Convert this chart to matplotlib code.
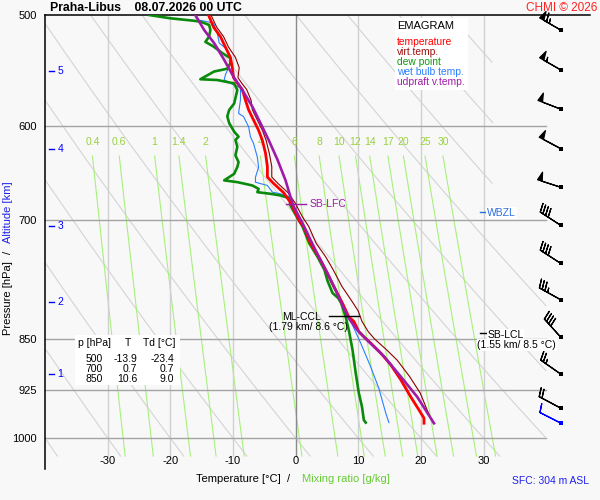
import numpy as np
import matplotlib
matplotlib.use("Agg")
import matplotlib.pyplot as plt
from matplotlib.patches import Rectangle

plt.rcParams['font.family'] = ['Liberation Sans', 'DejaVu Sans']

# ---------------- data ----------------
# temperature (red)
temp_p = [500, 510, 518, 527, 536, 545, 554, 559, 565, 575, 584, 594, 604, 614, 627, 641, 652,
          659, 669, 680, 696, 702, 707, 727, 743, 759, 780, 802, 820, 826, 840, 847, 856, 870,
          887, 909, 935, 955, 968, 976]
temp_t = [-13.9, -13.1, -12.0, -11.2, -10.4, -10.1, -9.9, -9.3, -8.5, -8.0, -7.5, -6.7, -5.9,
          -5.3, -4.8, -4.5, -4.5, -3.5, -1.9, -0.8, 0.3, 0.7, 1.3, 2.4, 3.7, 4.8, 6.1, 7.5, 8.5,
          9.3, 10.1, 10.9, 12.0, 13.6, 15.2, 16.8, 18.4, 19.7, 20.5, 20.5]

# virtual temperature (dark red)
tv_p = [500, 510, 518, 527, 536, 545, 554, 559, 565, 575, 584, 594, 604, 614, 627, 641, 652,
        659, 669, 680, 696, 707, 727, 743, 759, 780, 798, 812, 826, 840, 850, 866, 880, 904,
        929, 955, 971, 976]
tv_t = [-13.5, -12.6, -11.5, -10.7, -9.6, -9.0, -9.2, -8.6, -7.8, -7.1, -6.9, -6.1, -5.3, -4.7,
        -4.2, -3.8, -3.8, -2.8, -1.2, -0.1, 1.1, 2.1, 3.3, 4.8, 6.0, 7.4, 8.9, 10.0, 10.6, 11.6,
        12.6, 14.6, 16.2, 18.2, 19.9, 21.0, 21.7, 22.0]

# dew point (green)
td_p = [500, 502.7, 504.7, 505.5, 508.2, 512.4, 518.0, 522.5, 526.5, 532.2, 536.6, 541.0, 546.0,
        548.5, 555.5, 556.2, 559.3, 565.4, 578.0, 584.2, 590.3, 596.9, 605.3, 610.3, 613.6,
        620.5, 629.3, 636.3, 641.4, 648.6, 655.6, 657.5, 661.1, 664.8, 668.4, 670.2, 672.0,
        675.5, 682, 696, 702, 707, 727, 743, 759, 773, 788.5, 795, 802, 820, 838, 866, 899,
        929, 950, 971, 975]
td_t = [-23.4, -20.0, -16.3, -15.2, -13.8, -13.6, -13.8, -14.4, -13.1, -11.7, -10.4, -10.4,
        -10.9, -13.0, -15.2, -12.5, -9.8, -9.3, -9.8, -10.6, -10.9, -10.6, -9.8, -9.1, -9.6,
        -9.3, -9.6, -9.1, -9.3, -9.8, -11.4, -9.3, -6.9, -5.9, -6.1, -4.0, -2.4, -0.8, -0.9,
        0.2, 0.7, 1.1, 2.2, 3.5, 4.6, 5.1, 5.9, 6.8, 7.3, 8.0, 8.5, 9.1, 9.6, 10.1, 10.6, 10.9,
        11.2]

# wet bulb temperature (blue)
tw_p = [500, 504.1, 506.6, 515.0, 523.4, 529.3, 536.3, 544.0, 551.4, 556.0, 560.6, 563.4, 574.6,
        587.5, 590.6, 600.5, 610.5, 617.3, 631.3, 641.6, 652.2, 657.6, 661.1, 668.4, 670.2,
        673.9, 682, 696, 707, 727, 743, 759, 780, 802, 820, 856, 890, 922, 960, 975]
tw_t = [-16.0, -15.5, -13.1, -12.5, -12.2, -10.9, -10.4, -10.6, -11.2, -11.4, -9.9, -8.8, -8.8,
        -9.1, -8.3, -7.5, -7.2, -6.7, -6.1, -5.9, -6.4, -6.4, -4.5, -3.7, -2.4, -0.8, -0.8,
        0.3, 1.2, 2.3, 3.6, 4.7, 6.0, 7.4, 8.5, 10.4, 12.0, 13.3, 14.4, 14.9]

# updraft virtual temperature (purple)
par_p = [500, 512.4, 523.6, 538.1, 553.3, 565.4, 581.0, 596.9, 613.6, 633.6, 655.6, 673.9,
         684.3, 703.3, 723.0, 743.0, 763.5, 784.9, 804.6, 821.9, 837.8, 851.6, 874.6, 904.3,
         934.5, 976.1]
par_t = [-16.0, -14.6, -13.0, -11.4, -9.9, -8.5, -6.9, -5.6, -4.3, -2.9, -1.6, -0.8, -0.3, 1.1,
         2.4, 3.7, 5.1, 6.4, 7.5, 8.5, 9.85, 11.4, 14.1, 16.8, 19.4, 22.1]

# wind
wind_p = [512.4, 547, 583.3, 622.3, 663, 705.6, 751, 797.1, 847.4, 900.3, 952, 975.5]
wind_dir = [300, 300, 291, 298, 288, 303, 303, 299, 318, 305, 298, 297]
wind_spd = [65, 55, 50, 50, 50, 40, 40, 35, 40, 25, 20, 10]

# axis ticks and helper lines
p_ticks = [500, 600, 700, 850, 925, 1000]
t_ticks = [-30, -20, -10, 0, 10, 20, 30]
alt_km = [1, 2, 3, 4, 5]
alt_p = [900.9, 799.8, 706.5, 622.4, 548.1]
mix_vals = [0.4, 0.6, 1, 1.4, 2, 4, 6, 8, 10, 12, 14, 17, 20, 25, 30]

# table
tab_p = [500, 700, 850]
tab_t = [-13.9, 0.7, 10.6]
tab_td = [-23.4, 0.7, 9.0]

# ---------------- figure ----------------
W, H = 600, 500
BG = '#f8f8f8'
fig = plt.figure(figsize=(6, 5), dpi=100, facecolor=BG)
ax = fig.add_axes([45 / W, 31 / H, 545 / W, 454 / H])
ax.set_facecolor(BG)
ax.set_yscale('log')
ax.set_xlim(-40, 47)
ax.set_ylim(1052, 500)
for s in ['right', 'bottom']:
    ax.spines[s].set_visible(False)
for s in ['left', 'top']:
    ax.spines[s].set_linewidth(1.1)
ax.yaxis.set_minor_locator(plt.NullLocator())
ax.yaxis.set_minor_formatter(plt.NullFormatter())
ax.set_yticks(p_ticks)
ax.set_yticklabels([str(p) for p in p_ticks])
ax.set_xticks(t_ticks)
ax.set_xticklabels([str(t) for t in t_ticks])
ax.tick_params(axis='both', length=0, labelsize=8)
ax.tick_params(axis='x', pad=-9)
ax.tick_params(axis='y', pad=6)

P_BOT = 1030
# dry adiabats
pg = np.geomspace(500, P_BOT, 300)
for th in range(-40, 130, 10):
    T = (th + 273.15) * (pg / 1000.0) ** 0.286 - 273.15
    tmax = 40 if th <= 60 else 31.5
    T = np.where((T <= tmax) & (T >= -40), T, np.nan)
    ax.plot(T, pg, color='#d4d4d4', lw=0.8, zorder=1)

# isotherms
for t in t_ticks:
    ax.plot([t, t], [500, P_BOT], color='#8a8a8a' if t == 0 else '#d0d0d0', lw=1, zorder=1.2)
# isobars
for p in p_ticks[1:]:
    ax.plot([-40, 40], [p, p], color='#a4a4a4', lw=1, zorder=1.3)

# mixing ratio lines
pm = np.geomspace(630, P_BOT, 100)
for w in mix_vals:
    e = w * pm / (622.0 + w)
    l = np.log(e / 6.112)
    T = 243.5 * l / (17.67 - l)
    ax.plot(T, pm, color='#a8f07c', lw=0.8, zorder=1.1)
    ax.text(T[0], 616, f"{w:g}", color='#99d040', fontsize=7.5, ha='center', va='center', zorder=1.5)

# profiles
ax.plot(tv_t, tv_p, color='#8b0000', lw=0.8, zorder=3)
ax.plot(tw_t, tw_p, color='#2a7fff', lw=0.8, zorder=4)
ax.plot(td_t, td_p, color='#0a8a0a', lw=1.9, zorder=5)
ax.plot(temp_t, temp_p, color='#ff0000', lw=2.0, zorder=6)
ax.plot(par_t, par_p, color='#a01aa8', lw=1.9, zorder=7)

# altitude marks
for k, p in zip(alt_km, alt_p):
    ax.plot([-39.4, -38.6], [p, p], color='#0000ff', lw=1, zorder=8)
    ax.text(-38.0, p, str(k), color='#0000ff', fontsize=7.5, va='center', ha='left', zorder=8)

# annotations
PURPLE = '#a01aa8'
ax.plot([-1.6, 1.6], [681.8, 681.8], color=PURPLE, lw=1, zorder=8)
ax.text(2.3, 681.8, 'SB-LFC', color=PURPLE, fontsize=7.5, va='center', ha='left', zorder=8)

ax.plot([29.5, 30.4], [690.7, 690.7], color='#2a6fe0', lw=1, zorder=8)
ax.text(30.6, 691.5, 'WBZL', color='#2a6fe0', fontsize=7.5, va='center', ha='left', zorder=8,
        bbox=dict(facecolor='white', edgecolor='none', pad=0.8))

ax.plot([5.3, 10.1], [818.7, 818.7], color='black', lw=1, zorder=8)
ax.text(1.0, 819.5, 'ML-CCL', color='black', fontsize=7.5, va='center', ha='center', zorder=8)
ax.text(2.1, 833.3, '(1.79 km/ 8.6 °C)', color='black', fontsize=7.5, va='center', ha='center', zorder=8)

ax.plot([29.5, 30.4], [841.3, 841.3], color='black', lw=1, zorder=8)
ax.text(30.6, 844.0, 'SB-LCL', color='black', fontsize=7.5, va='center', ha='left', zorder=8,
        bbox=dict(facecolor='white', edgecolor='none', pad=0.5))
ax.text(35.3, 858.9, '(1.55 km/ 8.5 °C)', color='black', fontsize=7.5, va='center', ha='center',
        zorder=8, bbox=dict(facecolor='white', edgecolor='none', pad=0.5))

# wind barbs
BARB_T = 42.3
d = np.deg2rad(np.array(wind_dir, dtype=float))
s = np.array(wind_spd, dtype=float)
u = -s * np.sin(d)
v = -s * np.cos(d)
n = len(wind_p)
xs = np.full(n, BARB_T)
bsizes = dict(height=0.36, width=0.2, spacing=0.13, emptybarb=0.0)
ax.barbs(xs[:-1], wind_p[:-1], u[:-1], v[:-1], length=5.9, lw=0.9, color='black',
         sizes=bsizes, clip_on=False, zorder=9)
ax.barbs(xs[-1:], wind_p[-1:], u[-1:], v[-1:], length=5.9, lw=0.9, color='#0000ff',
         sizes=bsizes, clip_on=False, zorder=9)
ax.scatter(xs[:-1], wind_p[:-1], marker='s', s=5, color='black', zorder=10, clip_on=False, lw=0)
ax.scatter(xs[-1:], wind_p[-1:], marker='s', s=5, color='#0000ff', zorder=10, clip_on=False, lw=0)


# ---------------- figure-level texts / boxes ----------------
def ftxt(x, y, s, **kw):
    fig.text(x / W, 1 - y / H, s, **kw)


def fbox(x0, y0, x1, y1):
    fig.add_artist(Rectangle((x0 / W, 1 - y1 / H), (x1 - x0) / W, (y1 - y0) / H,
                             transform=fig.transFigure, facecolor='white', edgecolor='none',
                             zorder=2))


ftxt(50, 8, 'Praha-Libus    08.07.2026 00 UTC', fontsize=8.8, fontweight='bold', va='center', ha='left')
ftxt(597, 8, 'CHMI © 2026', fontsize=8.5, color='#ff2020', va='center', ha='right')

# legend
fbox(395, 18, 468, 90)
ftxt(397, 26, 'EMAGRAM', fontsize=8, va='center', ha='left', zorder=3)
leg = [('temperature', '#ff0000'), ('virt.temp.', '#a01010'), ('dew point', '#119911'),
       ('wet bulb temp.', '#2a7fff'), ('udpraft v.temp.', '#a01aa8')]
for i, (lab, c) in enumerate(leg):
    ftxt(397, 42 + i * 10, lab, fontsize=7.4, color=c, va='center', ha='left', zorder=3)

# table
fbox(75, 335, 180, 385)
ftxt(78, 343.5, 'p [hPa]', fontsize=7.5, va='center', ha='left', zorder=3)
ftxt(128, 343.5, 'T', fontsize=7.5, va='center', ha='center', zorder=3)
ftxt(143, 343.5, 'Td [°C]', fontsize=7.5, va='center', ha='left', zorder=3)
for i, (p, t, td) in enumerate(zip(tab_p, tab_t, tab_td)):
    y = 358.5 + i * 10
    ftxt(102.5, y, str(p), fontsize=7.5, va='center', ha='right', zorder=3)
    ftxt(137, y, f"{t:.1f}", fontsize=7.5, va='center', ha='right', zorder=3)
    ftxt(174, y, f"{td:.1f}", fontsize=7.5, va='center', ha='right', zorder=3)

# axis labels
ftxt(290, 479, 'Temperature [°C]  /', fontsize=8, va='center', ha='right')
ftxt(302, 479, 'Mixing ratio [g/kg]', fontsize=8, va='center', ha='left', color='#66cc33')
ftxt(589, 481, 'SFC: 304 m ASL', fontsize=7.5, va='center', ha='right', color='#2020ee')
ftxt(8, 298, 'Pressure [hPa]', fontsize=8, va='center', ha='center', rotation=90)
ftxt(8, 252, '/', fontsize=8, va='center', ha='center', rotation=90)
ftxt(8, 212, 'Altitude [km]', fontsize=8, va='center', ha='center', rotation=90, color='#2020ee')

fig.savefig('out.png', dpi=100, facecolor=BG)
